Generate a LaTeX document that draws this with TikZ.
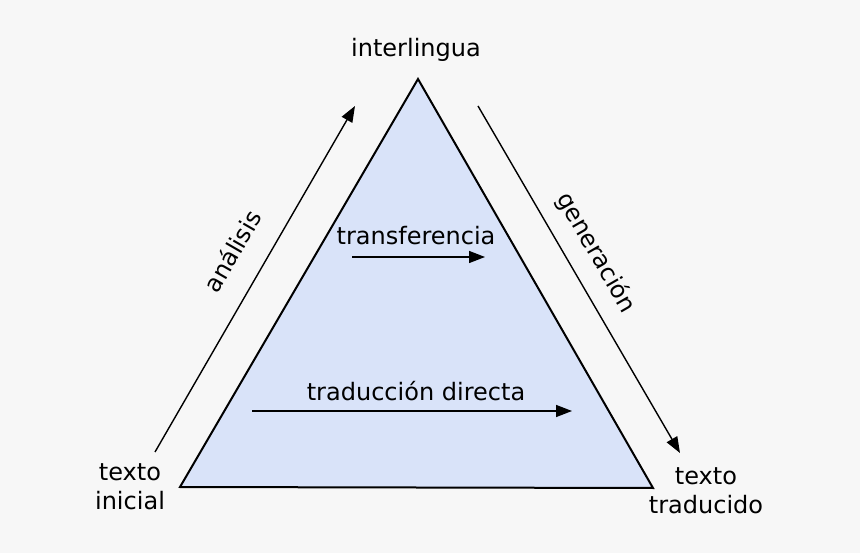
\documentclass[tikz,border=0pt]{standalone}
\usepackage{fontspec}
\setmainfont{DejaVu Sans}
\usetikzlibrary{arrows.meta}
\definecolor{bg}{HTML}{F7F7F7}
\definecolor{tri}{HTML}{D9E3F9}
\tikzset{
  lbl/.style={font=\fontsize{24}{29}\selectfont, align=center, inner sep=0pt},
  arr/.style={line width=1.4pt, -{Triangle[length=16pt,width=12pt]}},
}
\begin{document}
\begin{tikzpicture}[x=1pt,y=-1pt]
\fill[bg] (0,0) rectangle (860,553);
\useasboundingbox (0,0) rectangle (860,553);
\coordinate (A) at (418,79);
\coordinate (B) at (180,487);
\coordinate (C) at (653,488);
\filldraw[fill=tri, draw=black, line width=2pt, line join=miter] (A) -- (B) -- (C) -- cycle;
\node[lbl] (inter) at (416,50) {interlingua};
\node[lbl] (ini) at (130,487) {texto\\inicial};
\node[lbl] (trad) at (706,491) {texto\\traducido};
\coordinate (a1) at (155,452);
\coordinate (a2) at (355,106);
\draw[arr] (a1) -- (a2);
\coordinate (g1) at (478,106);
\coordinate (g2) at (680,453);
\draw[arr] (g1) -- (g2);
\node[lbl, rotate=60] (ana) at (232,251) {análisis};
\node[lbl, rotate=-60] (gen) at (596,253) {generación};
\node[lbl] (trans) at (416,236) {transferencia};
\coordinate (t1) at (352,257);
\coordinate (t2) at (485,257);
\draw[arr] (t1) -- (t2);
\node[lbl] (dir) at (416,391) {traducción directa};
\coordinate (d1) at (252,411);
\coordinate (d2) at (572,411);
\draw[arr] (d1) -- (d2);
\end{tikzpicture}
\end{document}
